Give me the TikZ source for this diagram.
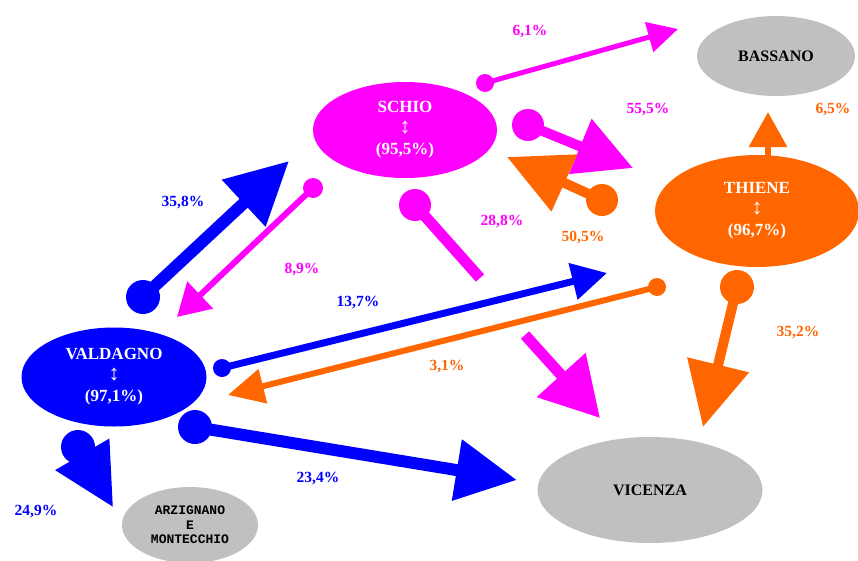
\documentclass[tikz,border=0pt]{standalone}
\usepackage{fontspec}
\setmainfont{Liberation Serif}
\newfontfamily\smallcaps{Liberation Mono}
\usetikzlibrary{arrows.meta, shapes.geometric}

\definecolor{vblue}{RGB}{0,0,255}
\definecolor{smag}{RGB}{255,0,255}
\definecolor{torange}{RGB}{255,102,0}
\definecolor{cgray}{RGB}{192,192,192}

\newcommand{\updown}{{\fontsize{22}{21}\selectfont\mdseries ↕}}

\tikzset{
  town/.style={ellipse, inner sep=0pt, text=white, align=center,
    font=\fontsize{17}{21}\selectfont\bfseries},
  place/.style={ellipse, inner sep=0pt, fill=cgray, align=center,
    font=\fontsize{16}{18}\selectfont\bfseries},
  pct/.style={font=\fontsize{15.5}{18}\selectfont\bfseries},
  flow/.style n args={4}{draw=#1, line width=#2pt,
    -{Triangle[length=#3pt, width=#4pt]}},
}

\begin{document}
\begin{tikzpicture}[x=1pt, y=-1pt]
  \useasboundingbox (0,0) rectangle (858,560);

  % comuni
  \node[town, fill=smag, minimum width=184pt, minimum height=96pt] (schio) at (405,130)
    {SCHIO\\\updown\\(95,5\%)};
  \node[town, fill=torange, minimum width=204pt, minimum height=112pt] (thiene) at (757,211)
    {THIENE\\\updown\\(96,7\%)};
  \node[town, fill=vblue, minimum width=185pt, minimum height=99pt] (valdagno) at (114,377)
    {VALDAGNO\\\updown\\(97,1\%)};
  \node[place, minimum width=158pt, minimum height=80pt] (bassano) at (776,56) {BASSANO};
  \node[place, minimum width=225pt, minimum height=106pt] (vicenza) at (650,490) {VICENZA};
  \node[place, minimum width=136pt, minimum height=76pt,
    font=\fontsize{13}{14.5}\selectfont\smallcaps\bfseries] (arzignano) at (190,525)
    {ARZIGNANO\\E\\MONTECCHIO};

  % punti di partenza e di arrivo
  \coordinate (v1) at (143,297); \coordinate (s1) at (289,161);
  \coordinate (s2) at (313,188); \coordinate (v2) at (177,317);
  \coordinate (s4) at (485,83);  \coordinate (b1) at (678,29);
  \coordinate (s5) at (528,125); \coordinate (t1) at (633,168);
  \coordinate (t2) at (602,200); \coordinate (s6) at (507,157);
  \coordinate (s3) at (415,205); \coordinate (s3a) at (480,278);
  \coordinate (s3b) at (525,335); \coordinate (c1) at (600,418);
  \coordinate (v3) at (222,368); \coordinate (t3) at (607,273);
  \coordinate (t4) at (657,287); \coordinate (v4) at (228,395);
  \coordinate (t5) at (768,168); \coordinate (b2) at (768,112);
  \coordinate (t6) at (737,287); \coordinate (c2) at (703,427);
  \coordinate (v5) at (195,427); \coordinate (c3) at (517,480);
  \coordinate (v6) at (78,447);  \coordinate (a1) at (113,507);

  % flussi da Valdagno
  \fill[vblue] (v1) circle (17);
  \draw[flow={vblue}{12}{62}{61}] (v1) -- (s1);
  \fill[vblue] (v3) circle (9);
  \draw[flow={vblue}{7}{35}{36}] (v3) -- (t3);
  \fill[vblue] (v5) circle (17);
  \draw[flow={vblue}{12}{61}{59}] (v5) -- (c3);
  \fill[vblue] (v6) circle (17);
  \draw[flow={vblue}{10}{61}{60}] (v6) -- (a1);

  % flussi da Schio
  \fill[smag] (s2) circle (10);
  \draw[flow={smag}{6}{32}{36}] (s2) -- (v2);
  \fill[smag] (s4) circle (9);
  \draw[flow={smag}{5}{30}{30}] (s4) -- (b1);
  \fill[smag] (s5) circle (16);
  \draw[flow={smag}{10}{57}{57}] (s5) -- (t1);
  \fill[smag] (s3) circle (16);
  \draw[smag, line width=11pt] (s3) -- (s3a);
  \draw[flow={smag}{11}{58}{63}] (s3b) -- (c1);

  % flussi da Thiene
  \fill[torange] (t2) circle (16);
  \draw[flow={torange}{10}{63}{60}] (t2) -- (s6);
  \fill[torange] (t4) circle (9);
  \draw[flow={torange}{6}{36}{34}] (t4) -- (v4);
  \draw[flow={torange}{6}{35}{37}] (t5) -- (b2);
  \fill[torange] (t6) circle (17);
  \draw[flow={torange}{10}{64}{61}] (t6) -- (c2);

  % percentuali
  \node[pct, text=smag] (p61) at (530,32) {6,1\%};
  \node[pct, text=smag] (p555) at (648,110) {55,5\%};
  \node[pct, text=torange] (p65) at (833,110) {6,5\%};
  \node[pct, text=vblue] (p358) at (183,203) {35,8\%};
  \node[pct, text=smag] (p89) at (302,270) {8,9\%};
  \node[pct, text=smag] (p288) at (502,222) {28,8\%};
  \node[pct, text=torange] (p505) at (583,238) {50,5\%};
  \node[pct, text=vblue] (p137) at (358,303) {13,7\%};
  \node[pct, text=torange] (p31) at (447,367) {3,1\%};
  \node[pct, text=torange] (p352) at (798,333) {35,2\%};
  \node[pct, text=vblue] (p234) at (318,479) {23,4\%};
  \node[pct, text=vblue] (p249) at (36,512) {24,9\%};
\end{tikzpicture}
\end{document}
